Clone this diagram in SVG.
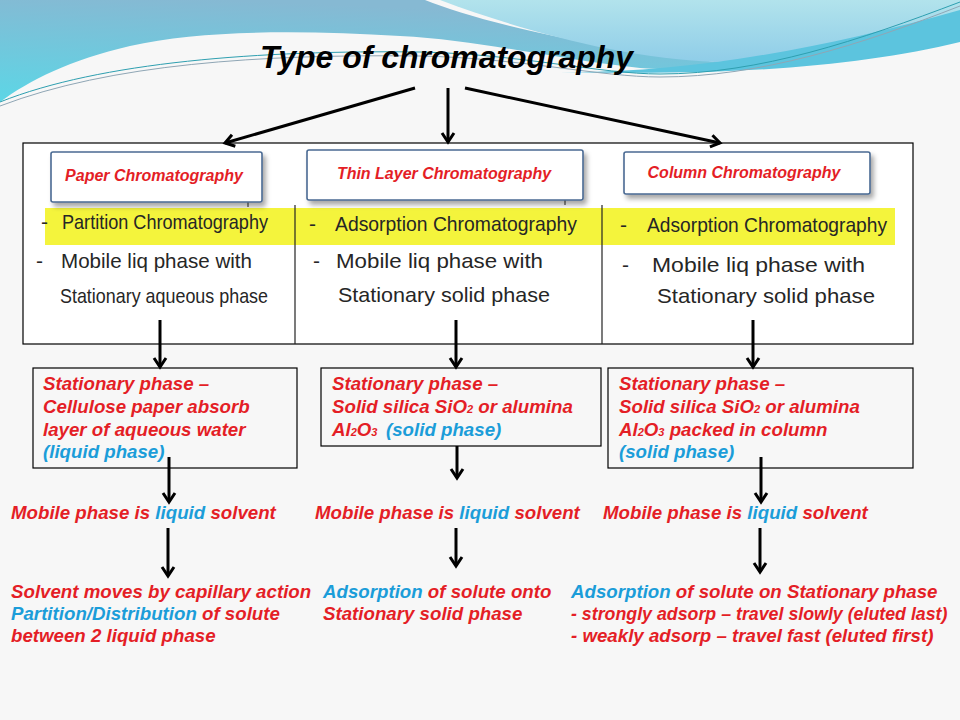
<svg xmlns="http://www.w3.org/2000/svg" width="960" height="720" viewBox="0 0 960 720">
<style>
.t{font-family:"Liberation Sans",Arial,sans-serif;font-weight:bold;font-style:italic;font-size:18.7px;fill:#E41E26}
.b{fill:#1B9DD9}
.sub{font-size:11px}
.hd{font-family:"Liberation Sans",Arial,sans-serif;font-weight:bold;font-style:italic;font-size:16px;fill:#E41E26;text-anchor:middle}
.hw{font-family:"Liberation Sans",Arial,sans-serif;font-size:21px;fill:#262626}
.box{fill:none;stroke:#000;stroke-width:1.2}
.hbox{fill:#fff;stroke:#4A6A93;stroke-width:1.6}
.ar{stroke:#000;stroke-width:3;fill:none;marker-end:url(#ah)}
</style>
<defs>
<marker id="ah" markerUnits="userSpaceOnUse" markerWidth="16" markerHeight="16" viewBox="0 0 16 16" refX="13" refY="8" orient="auto">
<path d="M4,2 L13,8 L4,14" fill="none" stroke="#000" stroke-width="3"/>
</marker>
<linearGradient id="gA" x1="0" y1="1" x2="0.3" y2="0">
<stop offset="0" stop-color="#5CD6E6"/>
<stop offset="1" stop-color="#86B9D3"/>
</linearGradient>
<linearGradient id="gB" x1="0" y1="0" x2="0" y2="1">
<stop offset="0" stop-color="#B2E3EC"/>
<stop offset="1" stop-color="#8FCDE8"/>
</linearGradient>
<filter id="sh" x="-10%" y="-20%" width="130%" height="160%">
<feDropShadow dx="3" dy="4" stdDeviation="2.5" flood-color="#000" flood-opacity="0.35"/>
</filter>
</defs>
<rect width="960" height="720" fill="#F7F7F7"/>
<g id="background">
<path d="M0,0 H425 C470,18 560,42 700,60 C780,70 700,72 640,68 C560,60 480,40 400,36 C300,30 200,30 130,46 C70,60 30,80 0,102 Z" fill="url(#gA)"/>
<path d="M440,0 H960 V12 C880,42 800,62 715,62 C620,58 520,30 440,0 Z" fill="url(#gB)"/>
<path d="M560,72 C680,74 820,50 960,10 V42 C860,66 740,76 560,72 Z" fill="#5CC4DE"/>
<path d="M0,102 C100,62 260,50 420,52 C520,54 600,74 660,74 C760,74 860,40 960,2" fill="none" stroke="#2E9FB0" stroke-width="1"/>
<path d="M0,106 C110,64 260,54 420,56 C520,58 600,77 660,77 C760,77 860,45 960,6" fill="none" stroke="#8FA6B5" stroke-width="1"/>
</g>
<g id="title">
<text x="260" y="68" font-family="Liberation Sans,Arial,sans-serif" font-weight="bold" font-style="italic" font-size="32" fill="#000" textLength="373" lengthAdjust="spacingAndGlyphs">Type of chromatography</text>
</g>
<g id="image-box">
<rect x="23" y="143" width="890" height="201" fill="#fff" stroke="#000" stroke-width="1.2"/>
<rect x="45" y="208" width="850" height="37" fill="#F4F43C"/>
<line x1="295" y1="205" x2="295" y2="344" stroke="#222" stroke-width="1.2"/>
<line x1="602" y1="205" x2="602" y2="344" stroke="#222" stroke-width="1.2"/>
<line x1="248" y1="200" x2="248" y2="207" stroke="#222" stroke-width="1"/>
<line x1="565" y1="199" x2="565" y2="205" stroke="#222" stroke-width="1"/>
<text class="hw" x="41" y="229">-</text>
<text class="hw" x="62" y="229" textLength="206" lengthAdjust="spacingAndGlyphs">Partition Chromatography</text>
<text class="hw" x="36" y="268">-</text>
<text class="hw" x="61" y="268" textLength="191" lengthAdjust="spacingAndGlyphs">Mobile liq phase with</text>
<text class="hw" x="60" y="303" textLength="208" lengthAdjust="spacingAndGlyphs">Stationary aqueous phase</text>
<text class="hw" x="309" y="231">-</text>
<text class="hw" x="335" y="231" textLength="242" lengthAdjust="spacingAndGlyphs">Adsorption Chromatography</text>
<text class="hw" x="313" y="268">-</text>
<text class="hw" x="336" y="268" textLength="207" lengthAdjust="spacingAndGlyphs">Mobile liq phase with</text>
<text class="hw" x="338" y="302" textLength="212" lengthAdjust="spacingAndGlyphs">Stationary solid phase</text>
<text class="hw" x="620" y="232">-</text>
<text class="hw" x="647" y="232" textLength="240" lengthAdjust="spacingAndGlyphs">Adsorption Chromatography</text>
<text class="hw" x="622" y="272">-</text>
<text class="hw" x="652" y="272" textLength="213" lengthAdjust="spacingAndGlyphs">Mobile liq phase with</text>
<text class="hw" x="657" y="303" textLength="218" lengthAdjust="spacingAndGlyphs">Stationary solid phase</text>
</g>
<g id="node-paper">
<rect class="hbox" x="51" y="152" width="211" height="50" rx="2" filter="url(#sh)"/>
<text class="hd" x="154" y="181">Paper Chromatography</text>
</g>
<g id="node-tlc">
<rect class="hbox" x="307" y="150" width="276" height="50" rx="2" filter="url(#sh)"/>
<text class="hd" x="444" y="179">Thin Layer Chromatography</text>
</g>
<g id="node-column">
<rect class="hbox" x="624" y="152" width="246" height="42" rx="2" filter="url(#sh)"/>
<text class="hd" x="744" y="178">Column Chromatography</text>
</g>
<g id="node-stat1">
<rect class="box" x="33" y="368" width="264" height="100" fill="#fff"/>
<text class="t" x="43" y="390">Stationary phase –</text>
<text class="t" x="43" y="413">Cellulose paper absorb</text>
<text class="t" x="43" y="436">layer of aqueous water</text>
<text class="t b" x="43" y="458">(liquid phase)</text>
</g>
<g id="node-stat2">
<rect class="box" x="321" y="368" width="280" height="78" fill="#fff"/>
<text class="t" x="332" y="390">Stationary phase –</text>
<text class="t" x="332" y="413">Solid silica SiO<tspan class="sub">2</tspan> or alumina</text>
<text class="t" x="332" y="436">Al<tspan class="sub">2</tspan>O<tspan class="sub">3</tspan>  <tspan class="b" x="386">(solid phase)</tspan></text>
</g>
<g id="node-stat3">
<rect class="box" x="608" y="368" width="305" height="100" fill="#fff"/>
<text class="t" x="619" y="390">Stationary phase –</text>
<text class="t" x="619" y="413">Solid silica SiO<tspan class="sub">2</tspan> or alumina</text>
<text class="t" x="619" y="436">Al<tspan class="sub">2</tspan>O<tspan class="sub">3</tspan> packed in column</text>
<text class="t b" x="619" y="458">(solid phase)</text>
</g>
<g id="node-mobile1"><text class="t" x="11" y="519">Mobile phase is <tspan class="b">liquid</tspan> solvent</text></g>
<g id="node-mobile2"><text class="t" x="315" y="519">Mobile phase is <tspan class="b">liquid</tspan> solvent</text></g>
<g id="node-mobile3"><text class="t" x="603" y="519">Mobile phase is <tspan class="b">liquid</tspan> solvent</text></g>
<g id="node-result1">
<text class="t" x="11" y="598">Solvent moves by capillary action</text>
<text class="t" x="11" y="620"><tspan class="b">Partition/Distribution</tspan> of solute</text>
<text class="t" x="11" y="642">between 2 liquid phase</text>
</g>
<g id="node-result2">
<text class="t" x="323" y="598"><tspan class="b">Adsorption</tspan> of solute onto</text>
<text class="t" x="323" y="620">Stationary solid phase</text>
</g>
<g id="node-result3">
<text class="t" x="571" y="598"><tspan class="b">Adsorption</tspan> of solute on Stationary phase</text>
<text class="t" x="571" y="620" style="font-size:17.8px">- strongly adsorp – travel slowly (eluted last)</text>
<text class="t" x="571" y="642">- weakly adsorp – travel fast (eluted first)</text>
</g>
<g id="connectors">
<line class="ar" x1="415" y1="88" x2="225" y2="143"/>
<line class="ar" x1="448" y1="88" x2="448" y2="142"/>
<line class="ar" x1="465" y1="88" x2="720" y2="143"/>
<line class="ar" x1="160" y1="320" x2="160" y2="367"/>
<line class="ar" x1="456" y1="320" x2="456" y2="367"/>
<line class="ar" x1="753" y1="320" x2="753" y2="367"/>
<line class="ar" x1="169" y1="457" x2="169" y2="502"/>
<line class="ar" x1="457" y1="446" x2="457" y2="478"/>
<line class="ar" x1="761" y1="457" x2="761" y2="502"/>
<line class="ar" x1="168" y1="528" x2="168" y2="576"/>
<line class="ar" x1="456" y1="528" x2="456" y2="566"/>
<line class="ar" x1="760" y1="528" x2="760" y2="572"/>
</g>
</svg>
